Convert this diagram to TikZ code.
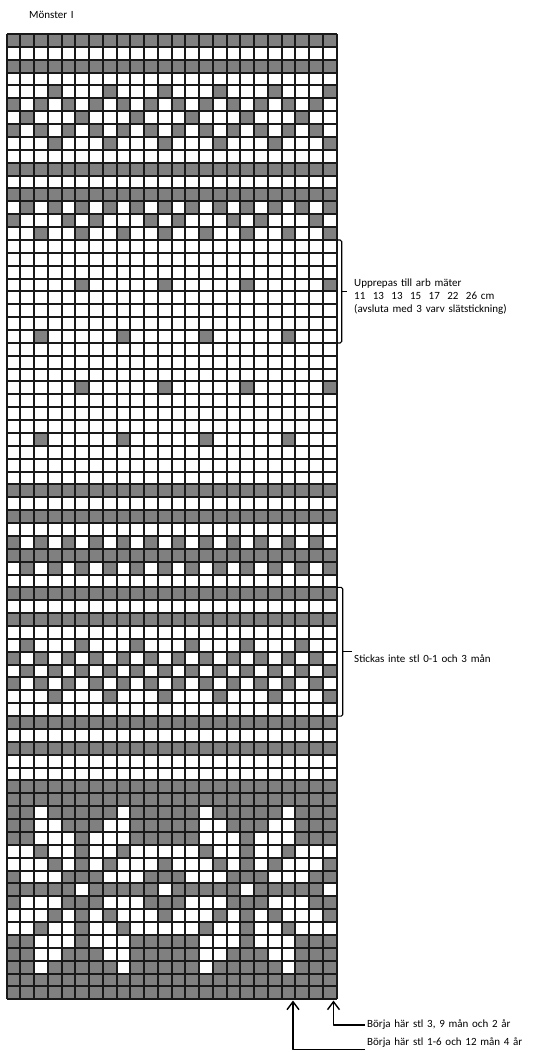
\documentclass[tikz,border=0pt]{standalone}
\usepackage{fontspec}
\setmainfont{Carlito}
\usepackage{xcolor}
\usetikzlibrary{arrows.meta}
\definecolor{knitgray}{RGB}{128,128,128}
\newcommand{\widespaces}{\spaceskip=0.34em\relax}
\tikzset{
  note/.style={font=\fontsize{11}{13}\selectfont,
    execute at begin node=\widespaces,align=left,inner sep=2pt},
  brace/.style={line width=1.1pt,rounded corners=1.5pt},
  pointer/.style={line width=1.4pt,-{Straight Barb[length=8pt,width=12pt]}},
  gridline/.style={line width=1.5pt,black!90}
}

\begin{document}
\begin{tikzpicture}[x=1pt,y=-1pt,line join=round]
  \useasboundingbox (0,0) rectangle (534,1052);
  \def\gx{6.7} \def\gy{34} \def\cw{13.75} \def\ch{12.87}
  % gray stitches: each row given by its 12-stitch repeat
  \foreach \r/\g in {1/{1,...,12},3/{1,...,12},5/{4,8,12},6/{1,3,...,11},
      7/{2,6,10},8/{1,3,...,11},9/{4,8,12},11/{1,...,12},13/{1,...,12},
      14/{2,4,...,12},15/{1,5,7,11},16/{3,6,9,12},20/{6,12},24/{3,9},
      28/{6,12},32/{3,9},36/{1,...,12},38/{1,...,12},40/{1,3,...,11},
      41/{1,...,12},42/{2,4,...,12},44/{1,...,12},46/{1,...,12},
      48/{2,6,10},49/{1,3,...,11},50/{2,4,...,12},51/{1,3,...,11},
      52/{4,8,12},54/{1,...,12},56/{1,...,12},59/{1,...,12},60/{1,...,12},
      61/{1,2,4,5,6,7,8,10,11,12},62/{1,2,5,6,7,10,11,12},
      63/{1,2,6,10,11,12},64/{3,6,9},65/{4,6,8,12},66/{1,5,6,7,11,12},
      67/{1,2,3,4,5,7,8,9,10,11},68/{1,5,6,7,11,12},69/{4,6,8,12},
      70/{3,6,9},71/{1,2,6,10,11,12},72/{1,2,5,6,7,10,11,12},
      73/{1,2,4,5,6,7,8,10,11,12},74/{1,...,12},75/{1,...,12}}
    \foreach \c in \g \foreach \k in {0,12}
      \fill[knitgray] ({round(\gx+(\c+\k-1)*\cw)},{round(\gy+(\r-1)*\ch)})
        rectangle ({round(\gx+(\c+\k)*\cw)},{round(\gy+\r*\ch)});
  % grid
  \foreach \c in {0,...,24}
    \draw[gridline] ({round(\gx+\c*\cw)},\gy) -- ({round(\gx+\c*\cw)},{round(\gy+75*\ch)});
  \foreach \r in {0,...,75}
    \draw[gridline] ({round(\gx)},{round(\gy+\r*\ch)}) -- ({round(\gx+24*\cw)},{round(\gy+\r*\ch)});

  \node[note,anchor=base west] (title) at (27,18) {Mönster I};

  % repeat bracket
  \coordinate (repTop) at (337,240);
  \coordinate (repBot) at (337,343);
  \draw[brace] (repTop) -- ++(4.7,0) |- (repBot);
  \draw[brace] (341.7,291.4) -- ++(5.5,0);
  \node[note,anchor=west] (repeat) at (352,296.5)
    {Upprepas till arb mäter\\11~~13~~13~~15~~17~~22~~26 cm\\(avsluta med 3 varv slätstickning)};

  % skip bracket
  \coordinate (skipTop) at (337,587.4);
  \coordinate (skipBot) at (337,716.1);
  \draw[brace] (skipTop) -- ++(5.7,0) |- (skipBot);
  \draw[brace] (342.7,651.7) -- ++(9,0);
  \node[note,anchor=base west] (skip) at (352,662.5) {Stickas inte stl 0-1 och 3 mån};

  % start arrows
  \coordinate (tipA) at (293,1000.5);
  \coordinate (tipB) at (333.5,1000.5);
  \node[note,anchor=west] (startB) at (365,1025) {Börja här stl 3, 9 mån och 2 år};
  \node[note,anchor=south west] (startA) at (365,1049.5) {Börja här stl 1-6 och 12 mån 4 år};
  \draw[pointer] (startB.west) -| (tipB);
  \draw[pointer] (startA.south west) -| (tipA);
\end{tikzpicture}
\end{document}
